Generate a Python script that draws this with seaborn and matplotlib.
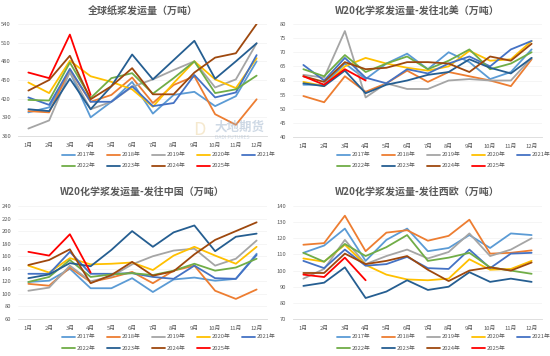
import numpy as np
import pandas as pd
import matplotlib
matplotlib.use("Agg")
import matplotlib.pyplot as plt
import seaborn as sns

sns.set_theme(style="white")
plt.rcParams['font.family'] = ['Noto Sans CJK SC', 'DejaVu Sans']

months = ["1月", "2月", "3月", "4月", "5月", "6月", "7月", "8月", "9月", "10月", "11月", "12月"]
years = ["2017年", "2018年", "2019年", "2020年", "2021年", "2022年", "2023年", "2024年", "2025年"]
colors = ["#5B9BD5", "#ED7D31", "#A5A5A5", "#FFC000", "#4472C4",
          "#70AD47", "#255E91", "#9E480E", "#FF0000"]

# 全球纸浆发运量
global_2017 = [398, 406, 463, 390, 415, 447, 396, 426, 431, 408, 424, 480]
global_2018 = [400, 398, 466, 415, 426, 454, 413, 442, 456, 395, 378, 419]
global_2019 = [372, 385, 463, 403, 415, 439, 451, 466, 480, 438, 451, 509]
global_2020 = [446, 429, 481, 456, 447, 435, 407, 445, 480, 451, 437, 485]
global_2021 = [422, 410, 468, 415, 415, 440, 408, 413, 458, 422, 430, 490]
global_2022 = [418, 417, 478, 421, 453, 461, 428, 453, 480, 429, 435, 457]
global_2023 = [403, 400, 452, 403, 440, 491, 451, 482, 513, 452, 480, 509]
global_2024 = [433, 450, 489, 419, 440, 469, 427, 427, 462, 486, 493, 540]
global_2025 = [462, 453, 523, 426]

# W20化学浆发运量-发往北美
na_2017 = [58.5, 58.5, 66, 60.5, 66, 69.5, 64, 70, 66.5, 60.5, 63, 71]
na_2018 = [54.5, 52.3, 61.5, 56, 59, 63.5, 59.5, 63, 61.5, 60, 58, 67.5]
na_2019 = [62, 61, 77.5, 54, 59, 57, 57, 60, 60.5, 60, 60, 68]
na_2020 = [59.5, 58, 65, 68, 66, 64.5, 63.5, 65, 70.5, 67, 67.5, 74]
na_2021 = [65.5, 60, 68, 61, 59, 64, 62.5, 66, 68.5, 65, 71, 74]
na_2022 = [64, 61.5, 69, 63, 66, 68.5, 64, 67, 71, 64, 66, 70]
na_2023 = [59, 58, 63.5, 55.5, 58.5, 60, 62, 63, 67.5, 64.5, 62.5, 68]
na_2024 = [61.5, 59.5, 66.5, 64, 64.5, 66.5, 66.5, 66, 63, 68.5, 67, 73]
na_2025 = [61.5, 58.5, 64, 60]

# W20化学浆发运量-发往中国
cn_2017 = [119, 121, 140, 109, 109, 125, 103, 123, 126, 121, 124, 164]
cn_2018 = [116, 113, 142, 119, 126, 135, 117, 137, 145, 105, 92, 107]
cn_2019 = [105, 110, 145, 120, 128, 147, 160, 169, 172, 145, 156, 185]
cn_2020 = [145, 134, 157, 147, 148, 150, 138, 161, 175, 161, 148, 175]
cn_2021 = [132, 132, 167, 132, 132, 133, 127, 124, 145, 125, 124, 162]
cn_2022 = [119, 127, 154, 127, 131, 133, 130, 137, 148, 137, 142, 156]
cn_2023 = [125, 131, 149, 144, 170, 200, 175, 198, 209, 168, 191, 196]
cn_2024 = [146, 154, 171, 117, 130, 151, 129, 136, 163, 186, 200, 214]
cn_2025 = [167, 161, 195, 134]

# W20化学浆发运量-发往西欧
eu_2017 = [111, 115.5, 126, 106, 119, 126, 112, 114, 122, 114, 123, 122]
eu_2018 = [116, 117, 134, 112, 123.5, 125, 118.5, 121.5, 131.5, 110.5, 111, 112.5]
eu_2019 = [95, 101, 119, 104, 109, 113, 107.5, 111.5, 123, 109, 113, 120]
eu_2020 = [107.5, 105.5, 116, 103.5, 97.5, 94.5, 94, 95, 107, 100.5, 101, 106]
eu_2021 = [106, 101.5, 113, 103, 104, 108.5, 101.5, 101, 113, 101.5, 110.5, 111]
eu_2022 = [111, 105.5, 116.5, 109, 114.5, 122, 106, 108, 111, 102, 100, 98]
eu_2023 = [90.5, 92.5, 102, 83, 87, 94, 88, 90, 99, 93, 95, 93]
eu_2024 = [98.5, 98.5, 110.5, 104, 106, 109, 100.5, 93.5, 100, 102, 100, 105]
eu_2025 = [97.5, 96, 108, 94]

panels = [
    ("全球纸浆发运量（万吨）",
     [global_2017, global_2018, global_2019, global_2020, global_2021,
      global_2022, global_2023, global_2024, global_2025],
     (360, 540, 30), (18, 24, 267, 136), 12, (155, 166)),
    ("W20化学浆发运量-发往北美（万吨）",
     [na_2017, na_2018, na_2019, na_2020, na_2021,
      na_2022, na_2023, na_2024, na_2025],
     (40, 80, 5), (293, 24, 542, 137), 12, (155, 166)),
    ("W20化学浆发运量-发往中国（万吨）",
     [cn_2017, cn_2018, cn_2019, cn_2020, cn_2021,
      cn_2022, cn_2023, cn_2024, cn_2025],
     (60, 240, 20), (18, 206, 267, 319), 193, (337, 348)),
    ("W20化学浆发运量-发往西欧（万吨）",
     [eu_2017, eu_2018, eu_2019, eu_2020, eu_2021,
      eu_2022, eu_2023, eu_2024, eu_2025],
     (70, 140, 10), (293, 206, 542, 319), 193, (337, 348)),
]

W, H = 550, 356
fig = plt.figure(figsize=(W / 100, H / 100), dpi=100)
text_color = "#595959"

# watermark (drawn first so the lines sit over it)
fig.text(214 / W, 1 - 127 / H, "大地期货", fontsize=9, color="#9FB4CC", alpha=0.5,
         ha="left", va="center", fontweight="bold", zorder=0)
fig.text(215 / W, 1 - 137.5 / H, "DADI FUTURES", fontsize=3.6, color="#9FB4CC", alpha=0.5,
         ha="left", va="center", zorder=0)
fig.text(193 / W, 1 - 130 / H, "D", fontsize=13, color="#E8C888", alpha=0.4,
         ha="left", va="center", zorder=0)

for p_idx, (title, series, (ymin, ymax, ystep), (x0, y0, x1, y1), ty, leg_y) in enumerate(panels):
    ax = fig.add_axes([x0 / W, 1 - y1 / H, (x1 - x0) / W, (y1 - y0) / H])
    rows = []
    for yr, vals in zip(years, series):
        for i, v in enumerate(vals):
            rows.append({"month": i, "value": v, "year": yr})
    df = pd.DataFrame(rows)
    sns.lineplot(data=df, x="month", y="value", hue="year", hue_order=years,
                 palette=colors, linewidth=1.3, ax=ax, legend=False, sort=False)
    for line in ax.get_lines():
        line.set_solid_capstyle("round")
    ax.set_xlim(-0.5, 11.5)
    ax.set_ylim(ymin, ymax)
    ax.set_yticks(np.arange(ymin, ymax + ystep / 2, ystep))
    ax.set_xticks(range(12))
    ax.set_xticklabels(months)
    ax.tick_params(axis="both", labelsize=4.2, colors=text_color, length=0, pad=5)
    ax.set_xlabel("")
    ax.set_ylabel("")
    ax.grid(axis="y", color="#F2F2F2", linewidth=0.5)
    for side in ["top", "right", "left"]:
        ax.spines[side].set_visible(False)
    ax.spines["bottom"].set_color("#D9D9D9")
    ax.spines["bottom"].set_linewidth(0.6)
    ax.set_facecolor("none")

    fig.text((x0 + x1) / 2 / W, 1 - ty / H, title,
             ha="center", va="center", fontsize=7.2, color=text_color, fontweight="bold")

    # legend, two rows: 5 + 4
    px0 = x0 + 44
    for k, (yr, c) in enumerate(zip(years, colors)):
        r = 0 if k < 5 else 1
        col = k if k < 5 else k - 5
        lx = px0 + col * 45
        ly = leg_y[r]
        fig.add_artist(plt.Line2D([lx / W, (lx + 13) / W], [1 - ly / H, 1 - ly / H],
                                  color=c, linewidth=1.3, transform=fig.transFigure))
        fig.text((lx + 15) / W, 1 - ly / H, yr, ha="left", va="center",
                 fontsize=4.2, color=text_color)

fig.savefig("out.png", dpi=100)
